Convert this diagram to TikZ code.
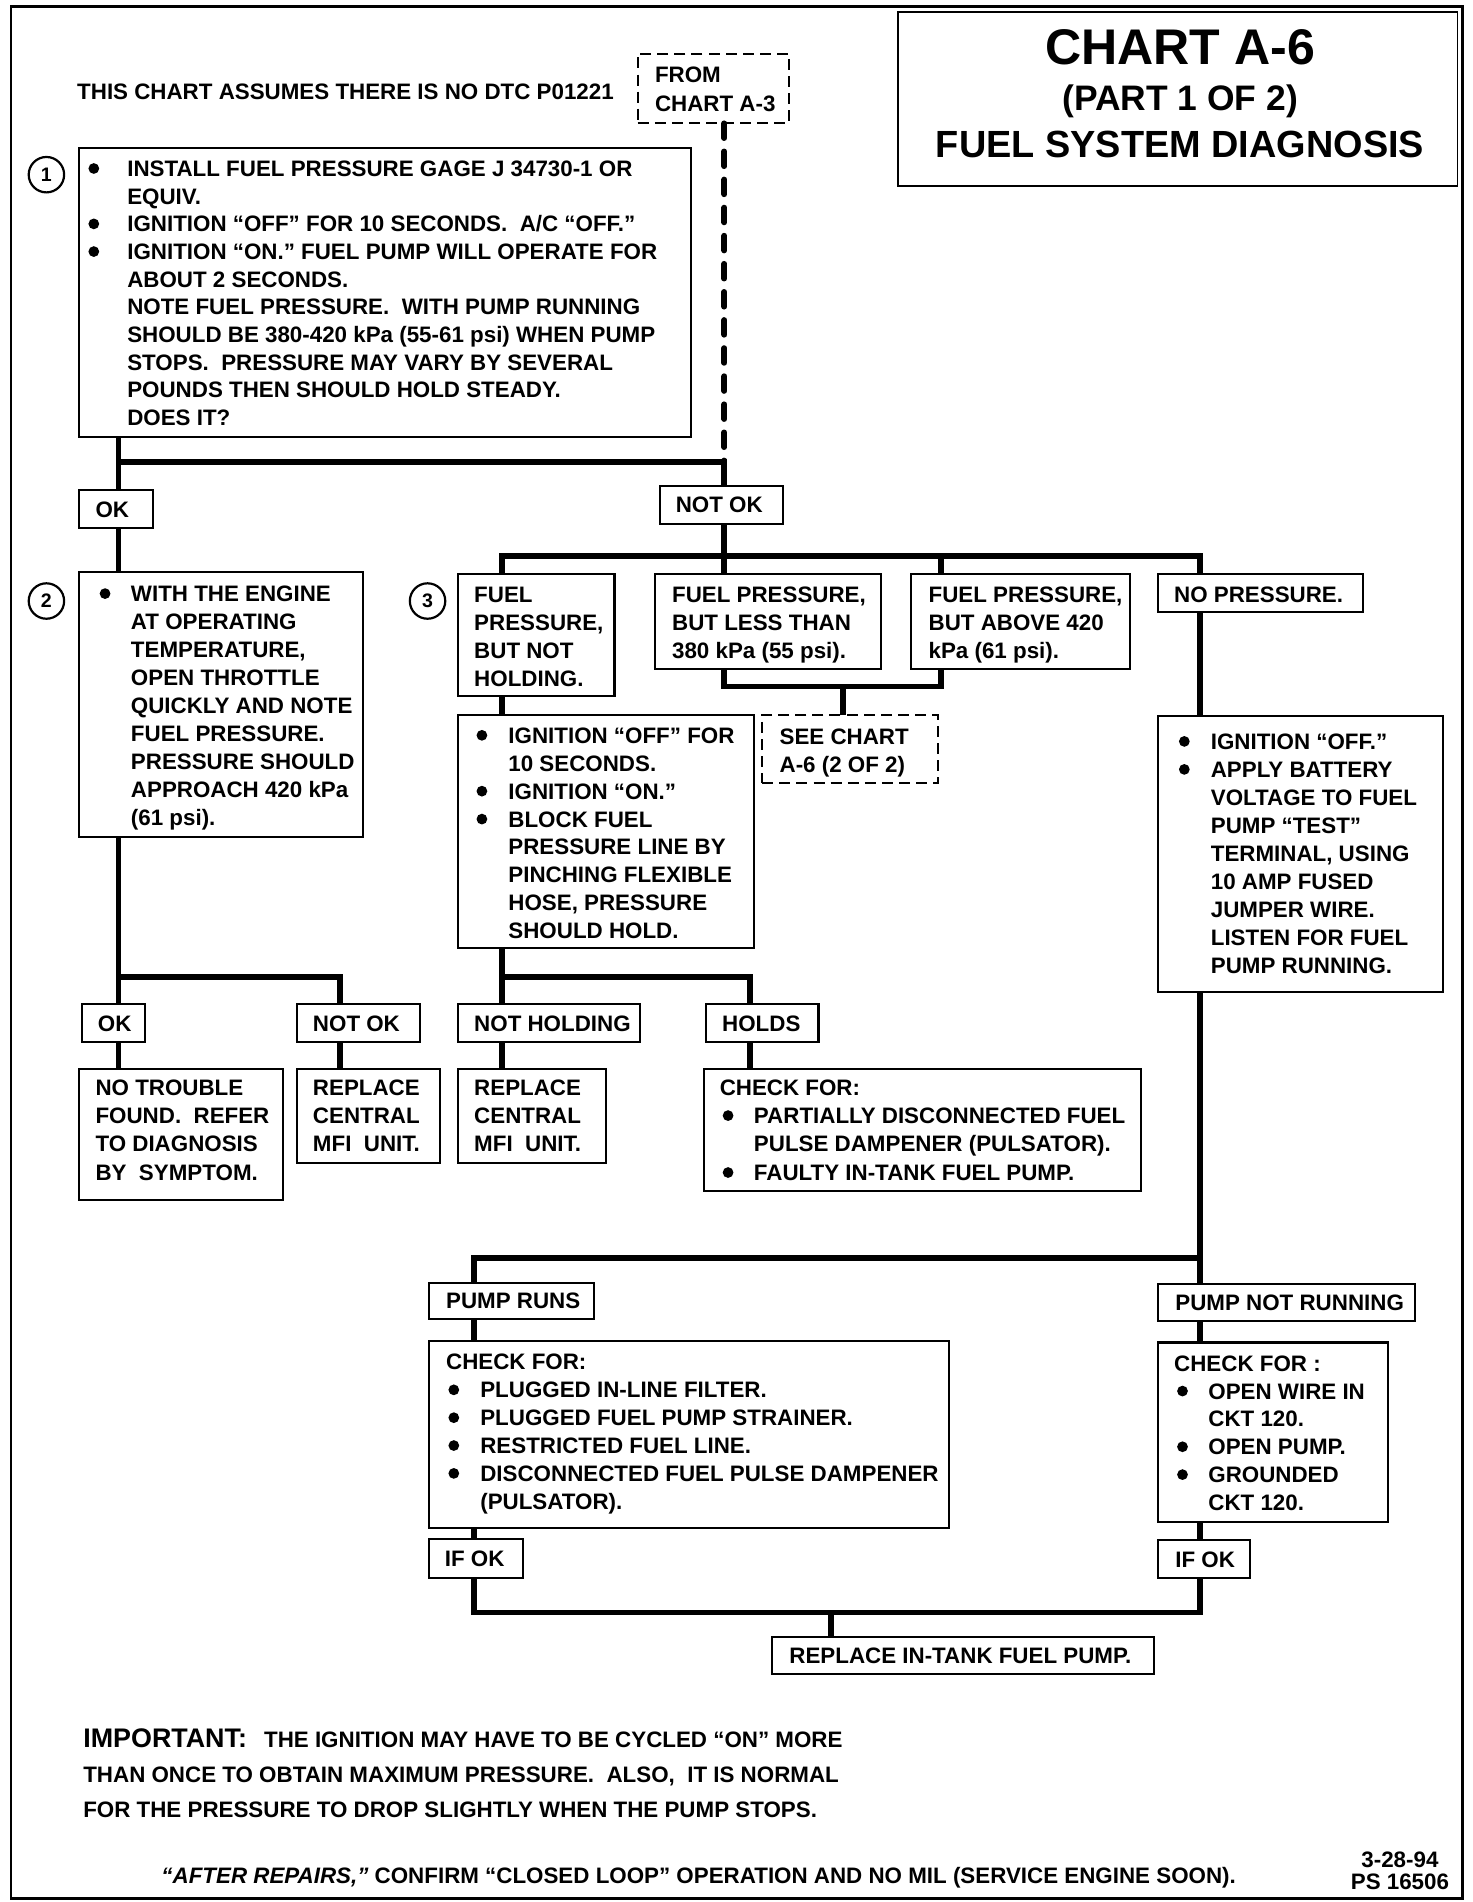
\documentclass[tikz,border=0pt]{standalone}
\usepackage{fontspec}
\setmainfont{Liberation Sans}
\usetikzlibrary{calc}
\newcommand\bdot{\raisebox{2.1pt}{\tikz\fill (0,0) circle (4.4pt);}}
\newcommand\blt[1][17.3]{\llap{\bdot\hspace*{#1pt}}}
\newcommand\drawbox[6][box]{\node[#1, minimum width={#4-#2}, minimum height={#5-#3}] (#6) at (#2,#3) {};}
\tikzset{
  every node/.style={font=\bfseries\fontsize{18.3}{22.8}\selectfont},
  box/.style={draw, line width=1.7pt, inner sep=0pt, outer sep=0pt, anchor=north west},
  dbox/.style={box, line width=1.5pt, dash pattern=on 9pt off 5pt},
  conn/.style={line width=4.8pt},
  dconn/.style={line width=4.8pt, line cap=round, dash pattern=on 12pt off 11pt},
  txt/.style={inner sep=0pt, anchor=north west, align=left},
  ls/.style={font=\bfseries\fontsize{18.3}{#1}\selectfont},
  num/.style={draw, circle, line width=1.8pt, minimum size=29pt, inner sep=0pt, font=\bfseries\fontsize{16}{16}\selectfont},
}
\begin{document}
\begin{tikzpicture}[x=1pt,y=-1pt]
\useasboundingbox (0,0) rectangle (1205,1557);
% frame
\draw[line width=2.4pt] (9,5) rectangle (1197,1554);
% junction coordinates
\coordinate (jA) at (97,378);
\coordinate (jB) at (593,378);
\coordinate (jC) at (593,455);
\coordinate (jL) at (411,455);
\coordinate (jR) at (982,455);
\coordinate (jAB) at (770,455);
\coordinate (jS1) at (593,562);
\coordinate (jS2) at (770,562);
\coordinate (jS) at (690,562);
\coordinate (j2) at (97,800);
\coordinate (j2r) at (278,800);
\coordinate (j3) at (411,800);
\coordinate (j3r) at (614,800);
\coordinate (jP) at (982,1030);
\coordinate (jPl) at (388,1030);
\coordinate (jQl) at (388,1320);
\coordinate (jQr) at (982,1320);
\coordinate (jT) at (680,1320);
% boxes
\drawbox[box, line width=1.4pt]{735}{10}{1193}{152}{title}
\drawbox[dbox]{522}{44}{646}{101}{from}
\drawbox{65}{121}{566}{358}{b1}
\drawbox{65}{401}{125}{432}{ok1}
\drawbox{540}{398}{641}{429}{nok1}
\drawbox{65}{468}{297}{685}{b2}
\drawbox{375}{470}{503}{570}{b3a}
\drawbox{536}{470}{721}{548}{lt}
\drawbox{746}{470}{925}{548}{ab}
\drawbox{948}{470}{1116}{501}{np}
\drawbox[dbox]{624}{585}{768}{641}{see}
\drawbox{375}{585}{617}{776}{b3b}
\drawbox{948}{586}{1181}{812}{np2}
\drawbox{67}{822}{119}{853}{ok2}
\drawbox{243}{822}{344}{853}{nok2}
\drawbox{375}{822}{524}{853}{nh}
\drawbox{578}{822}{670}{853}{holds}
\drawbox{65}{875}{232}{982}{ntf}
\drawbox{243}{875}{360}{952}{rep1}
\drawbox{375}{875}{496}{952}{rep2}
\drawbox{576}{875}{934}{975}{chk1}
\drawbox{351}{1050}{486}{1080}{pr}
\drawbox{351}{1098}{777}{1251}{chk2}
\drawbox{351}{1260}{428}{1292}{ifok1}
\drawbox{948}{1051}{1158}{1081}{pnr}
\drawbox{948}{1099}{1136}{1246}{chk3}
\drawbox{948}{1261}{1023}{1292}{ifok2}
\drawbox{632}{1340}{945}{1370}{rtank}
% connectors
\draw[dconn] (from.south -| jB) -- (jB);
\draw[conn] (b1.south -| jA) -- (ok1.north -| jA);
\draw[conn] (jA) -- (jB) -- (nok1.north -| jB);
\draw[conn] (ok1.south -| jA) -- (b2.north -| jA);
\draw[conn] (nok1.south -| jC) -- (jC);
\draw[conn] (b3a.north -| jL) -- (jL) -- (jR) -- (np.north -| jR);
\draw[conn] (jC) -- (lt.north -| jC);
\draw[conn] (jAB) -- (ab.north -| jAB);
\draw[conn] (lt.south -| jS1) -- (jS1) -- (jS2) -- (ab.south -| jS2);
\draw[conn] (jS) -- (see.north -| jS);
\draw[conn] (b3a.south -| jL) -- (b3b.north -| jL);
\draw[conn] (b3b.south -| j3) -- (nh.north -| j3);
\draw[conn] (j3) -- (j3r) -- (holds.north -| j3r);
\draw[conn] (nh.south -| j3) -- (rep2.north -| j3);
\draw[conn] (holds.south -| j3r) -- (chk1.north -| j3r);
\draw[conn] (b2.south -| j2) -- (ok2.north -| j2);
\draw[conn] (j2) -- (j2r) -- (nok2.north -| j2r);
\draw[conn] (ok2.south -| j2) -- (ntf.north -| j2);
\draw[conn] (nok2.south -| j2r) -- (rep1.north -| j2r);
\draw[conn] (np.south -| jR) -- (np2.north -| jR);
\draw[conn] (np2.south -| jP) -- (jP) -- (jPl) -- (pr.north -| jPl);
\draw[conn] (jP) -- (pnr.north -| jP);
\draw[conn] (pr.south -| jPl) -- (chk2.north -| jPl);
\draw[conn] (chk2.south -| jPl) -- (ifok1.north -| jPl);
\draw[conn] (ifok1.south -| jQl) -- (jQl) -- (jQr) -- (ifok2.south -| jQr);
\draw[conn] (pnr.south -| jP) -- (chk3.north -| jP);
\draw[conn] (chk3.south -| jP) -- (ifok2.north -| jP);
\draw[conn] (jT) -- (rtank.north -| jT);
% circled numbers
\node[num] (c1) at (38,143) {1};
\node[num] (c2) at (38,492) {2};
\node[num] (c3) at (350,492) {3};
% title
\node[anchor=base, font=\bfseries\fontsize{41}{41}\selectfont] (tt1) at (966,52.7) {CHART A-6};
\node[anchor=base, font=\bfseries\fontsize{29}{29}\selectfont] (tt2) at (966,90.4) {(PART 1 OF 2)};
\node[anchor=base, font=\bfseries\fontsize{31}{31}\selectfont] (tt3) at (966,129.1) {FUEL SYSTEM DIAGNOSIS};
% texts
\node[txt] (tnote) at (63,68.45) {THIS CHART ASSUMES THERE IS NO DTC P01221};
\node[txt, ls=24] (tfrom) at (536,54.45) {FROM\\CHART A-3};
\node[txt, ls=22.67] (tb1) at (104,131.45) {\blt[23]INSTALL FUEL PRESSURE GAGE J 34730-1 OR\\
EQUIV.\\
\blt[23]IGNITION “OFF” FOR 10 SECONDS.\ \ A/C “OFF.”\\
\blt[23]IGNITION “ON.” FUEL PUMP WILL OPERATE FOR\\
ABOUT 2 SECONDS.\\
NOTE FUEL PRESSURE.\ \ WITH PUMP RUNNING\\
SHOULD BE 380-420 kPa (55-61 psi) WHEN PUMP\\
STOPS.\ \ PRESSURE MAY VARY BY SEVERAL\\
POUNDS THEN SHOULD HOLD STEADY.\\
DOES IT?};
\node[txt] (tok1) at (78,410.45) {OK};
\node[txt] (tnok1) at (553,406.45) {NOT OK};
\node[txt, ls=22.9] (tb2) at (107,479.45) {\blt[16.8]WITH THE ENGINE\\AT OPERATING\\TEMPERATURE,\\OPEN THROTTLE\\QUICKLY AND NOTE\\FUEL PRESSURE.\\PRESSURE SHOULD\\APPROACH 420 kPa\\(61 psi).};
\node[txt] (tb3a) at (388,480.45) {FUEL\\PRESSURE,\\BUT NOT\\HOLDING.};
\node[txt] (tlt) at (550,480.45) {FUEL PRESSURE,\\BUT LESS THAN\\380 kPa (55 psi).};
\node[txt] (tab) at (760,480.45) {FUEL PRESSURE,\\BUT ABOVE 420\\kPa (61 psi).};
\node[txt] (tnp) at (961,480.45) {NO PRESSURE.};
\node[txt] (tsee) at (638,596.45) {SEE CHART\\A-6 (2 OF 2)};
\node[txt, ls=22.86] (tb3b) at (416,595.45) {\blt IGNITION “OFF” FOR\\10 SECONDS.\\\blt IGNITION “ON.”\\\blt BLOCK FUEL\\PRESSURE LINE BY\\PINCHING FLEXIBLE\\HOSE, PRESSURE\\SHOULD HOLD.};
\node[txt, ls=22.9] (tnp2) at (991,600.45) {\blt IGNITION “OFF.”\\\blt APPLY BATTERY\\VOLTAGE TO FUEL\\PUMP “TEST”\\TERMINAL, USING\\10 AMP FUSED\\JUMPER WIRE.\\LISTEN FOR FUEL\\PUMP RUNNING.};
\node[txt] (tok2) at (80,831.45) {OK};
\node[txt] (tnok2) at (256,831.45) {NOT OK};
\node[txt] (tnh) at (388,831.45) {NOT HOLDING};
\node[txt] (tholds) at (591,831.45) {HOLDS};
\node[txt, ls=23.3] (tntf) at (78,883.45) {NO TROUBLE\\FOUND.\ \ REFER\\TO DIAGNOSIS\\BY\ \ SYMPTOM.};
\node[txt, ls=23.3] (trep1) at (256,883.45) {REPLACE\\CENTRAL\\MFI\ \ UNIT.};
\node[txt, ls=23.3] (trep2) at (388,883.45) {REPLACE\\CENTRAL\\MFI\ \ UNIT.};
\node[txt, ls=23.3] (tchk1) at (589,883.45) {CHECK FOR:\\\hspace*{28pt}\blt[16.8]PARTIALLY DISCONNECTED FUEL\\\hspace*{28pt}PULSE DAMPENER (PULSATOR).\\\hspace*{28pt}\blt[16.8]FAULTY IN-TANK FUEL PUMP.};
\node[txt] (tpr) at (365,1058.45) {PUMP RUNS};
\node[txt] (tchk2) at (365,1108.45) {CHECK FOR:\\\hspace*{28pt}\blt PLUGGED IN-LINE FILTER.\\\hspace*{28pt}\blt PLUGGED FUEL PUMP STRAINER.\\\hspace*{28pt}\blt RESTRICTED FUEL LINE.\\\hspace*{28pt}\blt DISCONNECTED FUEL PULSE DAMPENER\\\hspace*{28pt}(PULSATOR).};
\node[txt] (tifok1) at (364,1269.45) {IF OK};
\node[txt] (tpnr) at (962,1059.45) {PUMP NOT RUNNING};
\node[txt] (tchk3) at (961,1109.45) {CHECK FOR :\\\hspace*{28pt}\blt[16.8]OPEN WIRE IN\\\hspace*{28pt}CKT 120.\\\hspace*{28pt}\blt[16.8]OPEN PUMP.\\\hspace*{28pt}\blt[16.8]GROUNDED\\\hspace*{28pt}CKT 120.};
\node[txt] (tifok2) at (962,1270.45) {IF OK};
\node[txt] (trtank) at (646,1348.45) {REPLACE IN-TANK FUEL PUMP.};
% notes
\node[txt, ls=28.5] (timp) at (68,1415.3) {{\fontsize{22}{28.5}\selectfont IMPORTANT:}\hspace{14pt}THE IGNITION MAY HAVE TO BE CYCLED “ON” MORE\\THAN ONCE TO OBTAIN MAXIMUM PRESSURE.\ \ ALSO,\ \ IT IS NORMAL\\FOR THE PRESSURE TO DROP SLIGHTLY WHEN THE PUMP STOPS.};
\node[txt] (tafter) at (132,1528.45) {\textit{“AFTER REPAIRS,”} CONFIRM “CLOSED LOOP” OPERATION AND NO MIL (SERVICE ENGINE SOON).};
\node[anchor=north, align=center, inner sep=0pt, ls=18] (tdate) at (1146,1515.5) {3-28-94\\PS 16506};
\end{tikzpicture}
\end{document}
